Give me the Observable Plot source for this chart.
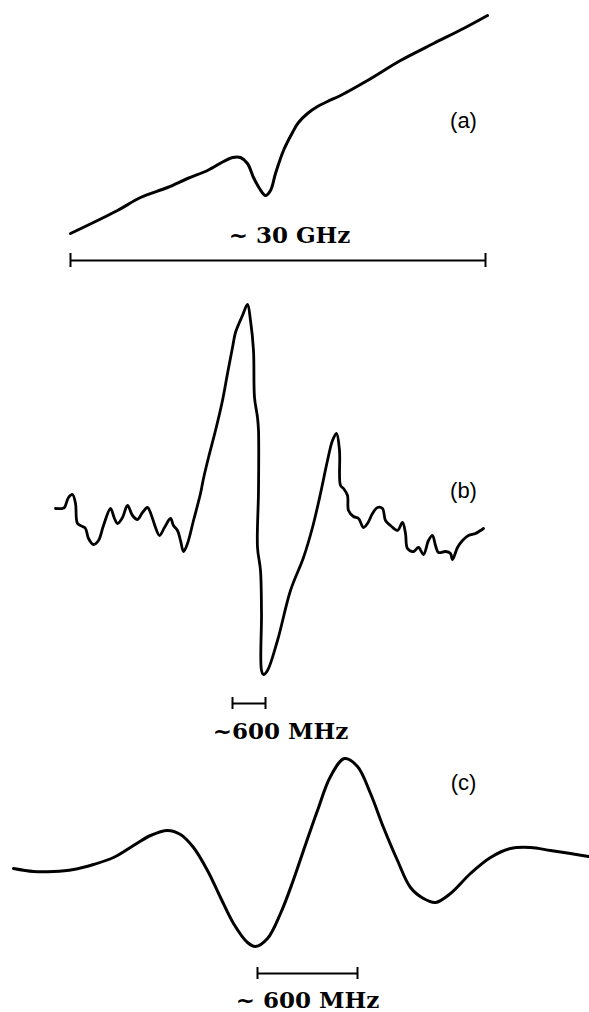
<!DOCTYPE html>
<html>
<head>
<meta charset="utf-8">
<script src="https://cdn.jsdelivr.net/npm/d3@7"></script>
<script src="https://cdn.jsdelivr.net/npm/@observablehq/plot@0.6"></script>
<style>
  html, body { margin: 0; padding: 0; background: #fff; }
  #chart { width: 589px; }
  #chart svg { display: block; }
</style>
</head>
<body>
<div id="chart"></div>
<script>
// ---------- Panel (a): broad scan, ~30 GHz span (arbitrary units) ----------
const aFreq   = [70, 117, 140, 167, 187, 207, 223, 232, 240, 247, 253, 259, 265, 270, 275, 283, 292, 298, 307, 317, 327, 340, 367, 400, 433, 463, 487];
const aSignal = [42, 65, 78, 88, 97, 105, 114, 118, 118, 112, 98, 87, 80, 85, 102, 125, 143, 153, 162, 169, 174, 180, 195, 215, 232, 247, 260];

// ---------- Panel (b): noisy derivative signal ----------
const bFreq = [55, 62, 64, 68, 72, 75, 77, 82, 85, 88, 93, 98, 103, 110, 114, 117, 122, 127, 132, 137, 142, 147, 152, 155, 159, 164, 170, 173, 177, 180, 183, 187, 193, 200, 203, 208, 215, 222, 227, 232, 235, 242, 247, 250, 253, 254, 257, 258, 258, 257, 260, 261, 261, 263, 267, 277, 290, 303, 312, 320, 327, 332, 336, 339, 340, 343, 347, 348, 353, 358, 363, 367, 372, 377, 382, 385, 390, 397, 402, 405, 407, 413, 418, 423, 428, 432, 435, 438, 445, 450, 452, 457, 462, 468, 475, 480, 483];
const bSignal = [237, 237, 238, 248, 251, 242, 222, 219, 217, 207, 201, 205, 220, 237, 227, 222, 228, 240, 230, 226, 233, 238, 227, 218, 210, 218, 227, 220, 215, 205, 194, 202, 225, 252, 267, 288, 315, 345, 372, 398, 413, 430, 441, 425, 395, 348, 328, 315, 255, 198, 175, 132, 75, 71, 75, 105, 155, 188, 218, 252, 285, 305, 312, 295, 260, 257, 250, 235, 229, 227, 218, 222, 232, 238, 237, 225, 220, 215, 223, 212, 197, 194, 198, 191, 205, 210, 200, 193, 194, 192, 186, 198, 205, 210, 212, 215, 217];

// ---------- Panel (c): smoothed signal ----------
const cFreq   = [13, 33, 53, 73, 93, 113, 133, 150, 167, 180, 193, 207, 220, 233, 247, 255, 267, 280, 292, 303, 317, 330, 344, 357, 370, 383, 397, 410, 423, 435, 450, 470, 490, 510, 530, 550, 570, 588];
const cSignal = [144, 141, 141, 143, 148, 155, 167, 177, 182, 178, 165, 142, 115, 89, 70, 66, 74, 99, 130, 162, 202, 236, 254, 246, 219, 185, 152, 125, 114, 110, 119, 139, 155, 164, 165, 162, 159, 156];

// ---------- Annotations ----------
const panelLabels = ["(a)", "(b)", "(c)"];
const scaleLabels = ["~ 30 GHz", "~600 MHz", "~ 600 MHz"];
const scaleStart  = [70, 232, 257];
const scaleEnd    = [485, 265, 357];
const scaleLevel  = [15, 42, 39];
const scaleTickLo = [8, 36, 33];
const scaleTickHi = [22, 48, 45];
const scaleTextX  = [289, 280, 307];
const scaleTextY  = [40, 14, 12];
const panelLabelX = [463, 463, 463];
const panelLabelY = [155, 255, 230];
const panelHeights = [275, 470, 267];
const traceWidths  = [3, 2.8, 3];

const traces = [
  aFreq.map((f, i) => ({f, s: aSignal[i]})),
  bFreq.map((f, i) => ({f, s: bSignal[i]})),
  cFreq.map((f, i) => ({f, s: cSignal[i]}))
];

const chart = document.getElementById("chart");
const W = 589;

for (let p = 0; p < 3; p++) {
  const H = panelHeights[p];
  const bar = [{x1: scaleStart[p], x2: scaleEnd[p], y: scaleLevel[p]}];
  const ticks = [scaleStart[p], scaleEnd[p]].map(x => ({x, y1: scaleTickLo[p], y2: scaleTickHi[p]}));
  const svg = Plot.plot({
    width: W,
    height: H,
    margin: 0,
    x: {domain: [0, W], axis: null},
    y: {domain: [0, H], axis: null},
    style: {background: "#fff"},
    marks: [
      Plot.line(traces[p], {x: "f", y: "s", curve: "catmull-rom", stroke: "#000", strokeWidth: traceWidths[p], strokeLinejoin: "round", strokeLinecap: "round"}),
      Plot.ruleY(bar, {y: "y", x1: "x1", x2: "x2", stroke: "#000", strokeWidth: 2}),
      Plot.ruleX(ticks, {x: "x", y1: "y1", y2: "y2", stroke: "#000", strokeWidth: 2}),
      Plot.text([scaleLabels[p]], {x: () => scaleTextX[p], y: () => scaleTextY[p], text: d => d, fontFamily: "DejaVu Serif", fontWeight: "bold", fontSize: 23, fill: "#000"}),
      Plot.text([panelLabels[p]], {x: () => panelLabelX[p], y: () => panelLabelY[p], text: d => d, fontFamily: "Liberation Sans", fontSize: 22, fill: "#000"})
    ]
  });
  chart.appendChild(svg);
}
</script>
</body>
</html>
